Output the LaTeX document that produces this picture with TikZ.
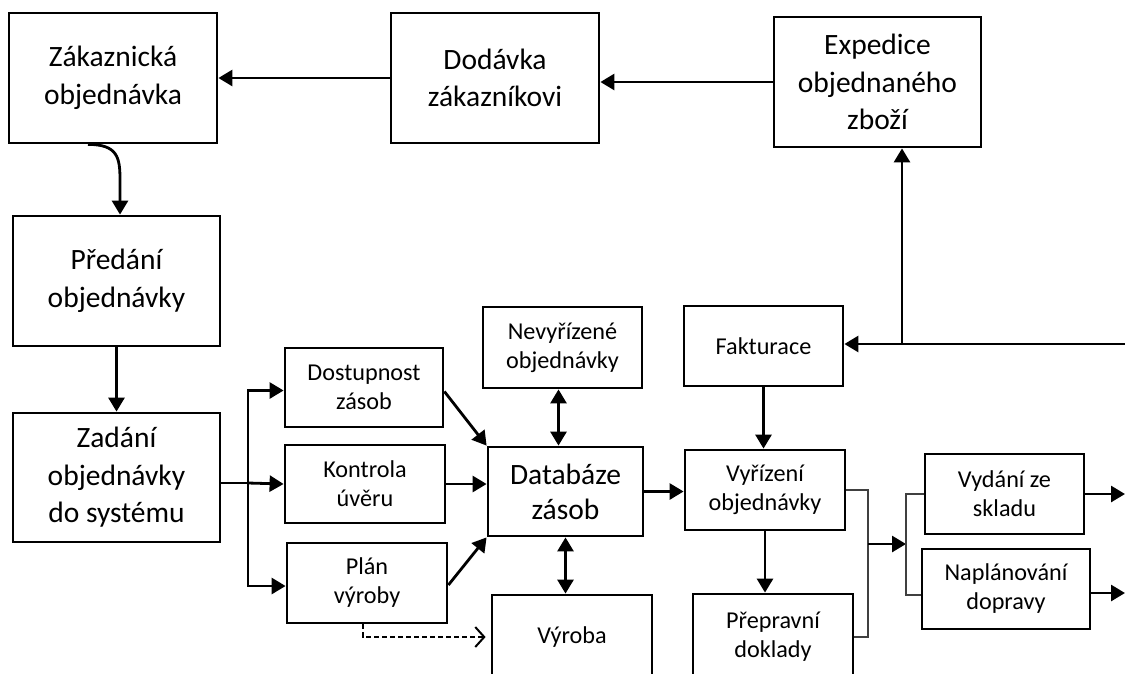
\documentclass[tikz,border=0pt]{standalone}
\usepackage{fontspec}
\setmainfont{Carlito}
\usetikzlibrary{arrows.meta}
\tikzset{
 box/.style={draw, line width=2.8pt, inner sep=0pt, align=center, font=\fontsize{29.5}{37.5}\selectfont},
 sbox/.style={box, font=\fontsize{24.2}{29}\selectfont},
 arr/.style={line width=2.8pt, -{Triangle[length=14pt,width=16pt]}},
 darr/.style={line width=2.8pt, {Triangle[length=14pt,width=16pt]}-{Triangle[length=14pt,width=16pt]}},
 thinl/.style={line width=1.4pt, black!75},
 dasharr/.style={line width=2pt, dash pattern=on 5pt off 3pt, -{Straight Barb[length=9pt,width=20pt,line width=2pt]}},
}
\begin{document}
\begin{tikzpicture}[x=1pt,y=-1pt]
\useasboundingbox (0,0) rectangle (1125,673);
\clip (0,0) rectangle (1125,673);
% top row
\node[box, minimum width=208pt, minimum height=130pt] (zak) at (113,78) {Zákaznická\\objednávka};
\node[box, minimum width=208pt, minimum height=130pt] (dod) at (495,78) {Dodávka\\zákazníkovi};
\node[box, minimum width=207pt, minimum height=130pt] (exp) at (877.5,82) {Expedice\\objednaného\\zboží};
% left column
\node[box, minimum width=207pt, minimum height=130pt] (pre) at (116.5,281) {Předání\\objednávky};
\node[box, minimum width=207pt, minimum height=129pt] (zad) at (116.5,477.5) {Zadání\\objednávky\\do systému};
% middle small boxes
\node[sbox, minimum width=158pt, minimum height=79pt] (dos) at (364,387.5) {Dostupnost\\zásob};
\node[sbox, minimum width=160pt, minimum height=78pt] (kon) at (365,484) {Kontrola\\úvěru};
\node[sbox, minimum width=160pt, minimum height=80pt] (pla) at (367,583) {Plán\\výroby};
\node[sbox, minimum width=159pt, minimum height=81pt] (nev) at (562.5,347.5) {Nevyřízené\\objednávky};
\node[box, minimum width=155pt, minimum height=89pt, font=\fontsize{29.5}{35}\selectfont] (dat) at (565.5,491.5) {Databáze\\zásob};
\node[sbox, minimum width=160pt, minimum height=84pt] (vyr) at (572,637) {Výroba};
\node[sbox, minimum width=159pt, minimum height=80pt] (fak) at (763.5,346) {Fakturace};
\node[sbox, minimum width=160pt, minimum height=80pt] (vyri) at (765,490) {Vyřízení\\objednávky};
\node[sbox, minimum width=160pt, minimum height=86pt] (pre2) at (773,637) {Přepravní\\doklady};
\node[sbox, minimum width=159pt, minimum height=80pt] (vyd) at (1004.5,494) {Vydání ze\\skladu};
\node[sbox, minimum width=168pt, minimum height=80pt] (nap) at (1006,589) {Naplánování\\dopravy};
% coordinates
\coordinate (br) at (248,483);
\coordinate (re) at (1125,344);
\coordinate (jn) at (902,344);
\coordinate (b1) at (868,544);
\coordinate (b2) at (906,544);
\coordinate (e1) at (1125,497);
% connectors
\draw[arr] (dod.west) -- (zak.east);
\draw[arr] (exp.west) -- (exp.west -| dod.east);
\draw[arr] ([xshift=-25pt]zak.south) .. controls +(30,0) and +(0,-22) .. ([xshift=7pt]zak.south |- 0,180) -- ([xshift=7pt]zak.south |- pre.north);
\draw[arr] (pre.south) -- (zad.north);
\draw[line width=2.8pt] (zad.east |- br) -- (br);
\draw[arr] (br) -- (kon.west);
\draw[arr] (br) |- ([yshift=-3pt]dos.west);
\draw[arr] (br) |- ([yshift=-3pt]pla.west);
\draw[arr] ([yshift=-4pt]dos.east) -- (dat.north west);
\draw[arr] (kon.east) -- (kon.east -| dat.west);
\draw[arr] ([yshift=-2pt]pla.east) -- (dat.south west);
\draw[dasharr] ([xshift=-4pt]pla.south) |- ([xshift=-5pt]vyr.west);
\draw[darr] ([xshift=-4pt]nev.south) -- ([xshift=-4pt]nev.south |- dat.north);
\draw[darr] (dat.south) -- (dat.south |- vyr.north);
\draw[arr] (dat.east) -- (dat.east -| vyri.west);
\draw[arr] (fak.south) -- (fak.south |- vyri.north);
\draw[arr] (vyri.south) -- (vyri.south |- pre2.north);
\draw[arr] (re) -- (re -| fak.east);
\draw[arr] (jn) -- (jn |- exp.south);
\draw[thinl] (vyri.east) -| (b1) |- (pre2.east);
\draw[arr] (b1) -- (b2);
\draw[thinl] (vyd.west) -| (b2) |- ([yshift=-6pt]nap.west);
\draw[arr] (vyd.east) -- (vyd.east -| e1);
\draw[arr] ([yshift=-4pt]nap.east) -- ([yshift=-4pt]nap.east -| e1);
\end{tikzpicture}
\end{document}
